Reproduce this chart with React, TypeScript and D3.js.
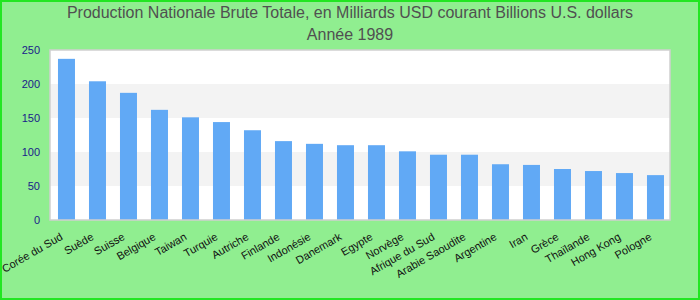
import React, { useEffect } from "react";
import * as d3 from "d3";

const titleLines = [
  "Production Nationale Brute Totale, en Milliards USD courant Billions U.S. dollars",
  "Année 1989",
];

const countries = [
  "Corée du Sud", "Suède", "Suisse", "Belgique", "Taiwan", "Turquie", "Autriche",
  "Finlande", "Indonésie", "Danemark", "Egypte", "Norvège", "Afrique du Sud",
  "Arabie Saoudite", "Argentine", "Iran", "Grèce", "Thaïlande", "Hong Kong", "Pologne",
];

const values = [237, 204, 187, 162, 151, 144, 132, 116, 112, 110, 110, 101, 96, 96, 82, 81, 75, 72, 69, 66];

const yTicks = [0, 50, 100, 150, 200, 250];

const W = 700;
const H = 300;
const plot = { left: 50, right: 670, top: 50, bottom: 220 };

export default function App() {
  useEffect(() => {
    document.body.style.margin = "0";
  }, []);

  const x = d3
    .scaleBand<string>()
    .domain(countries)
    .range([plot.left, plot.right])
    .paddingInner(0.4516)
    .paddingOuter(0.2258)
    .align(0.57);
  const y = d3.scaleLinear().domain([0, 250]).range([plot.bottom, plot.top]);

  const font = "'Liberation Sans', Arial, sans-serif";

  return (
    <svg width={W} height={H} style={{ display: "block" }} fontFamily={font}>
      <rect x={1} y={1} width={W - 2} height={H - 2} fill="#90ee90" stroke="#22e622" strokeWidth={2} />
      {titleLines.map((t, i) => (
        <text key={i} x={W / 2} y={18 + i * 22} textAnchor="middle" fontSize={16} fill="#505050">
          {t}
        </text>
      ))}
      <rect x={plot.left} y={plot.top} width={plot.right - plot.left} height={plot.bottom - plot.top} fill="#ffffff" />
      {yTicks.slice(0, -1).map((t, i) =>
        i % 2 === 1 ? (
          <rect
            key={t}
            x={plot.left}
            y={y(yTicks[i + 1])}
            width={plot.right - plot.left}
            height={y(t) - y(yTicks[i + 1])}
            fill="#f3f3f3"
          />
        ) : null
      )}
      {countries.map((c, i) => (
        <rect
          key={c}
          x={x(c)}
          y={y(values[i])}
          width={x.bandwidth()}
          height={y(0) - y(values[i])}
          fill="#61a9f5"
        />
      ))}
      <rect
        x={plot.left}
        y={plot.top}
        width={plot.right - plot.left}
        height={plot.bottom - plot.top}
        fill="none"
        stroke="#cfcfcf"
        strokeWidth={1.5}
      />
      {yTicks.map((t) => (
        <text key={t} x={40} y={y(t)} dy="0.35em" textAnchor="end" fontSize={11} fill="#1a1a8a">
          {t}
        </text>
      ))}
      {countries.map((c) => {
        const cx = (x(c) as number) + x.bandwidth() / 2 - 3;
        const cy = plot.bottom + 19;
        return (
          <text
            key={c}
            x={cx}
            y={cy}
            textAnchor="end"
            fontSize={11}
            fill="#111111"
            transform={`rotate(-30, ${cx}, ${cy})`}
          >
            {c}
          </text>
        );
      })}
    </svg>
  );
}
